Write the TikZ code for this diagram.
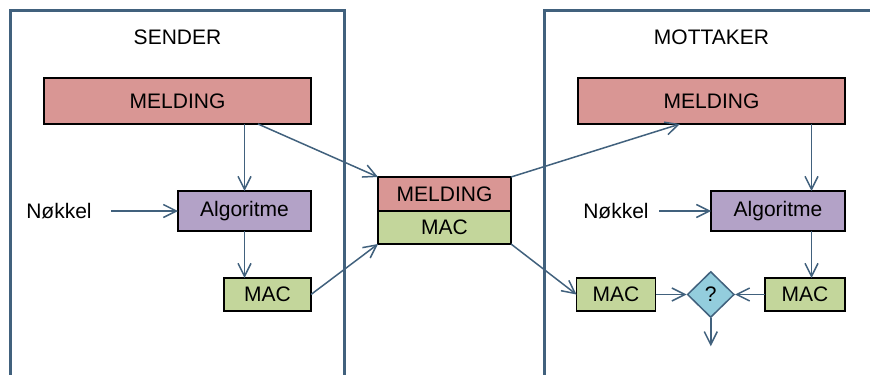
\documentclass[tikz,border=0pt]{standalone}
\usepackage{fontspec}
\setmainfont{Liberation Sans}
\usetikzlibrary{arrows.meta,positioning,shapes.geometric}
\definecolor{linjeblaa}{RGB}{65,97,125}
\definecolor{rosa}{RGB}{217,150,148}
\definecolor{lilla}{RGB}{179,162,199}
\definecolor{gronn}{RGB}{195,214,155}
\definecolor{turkis}{RGB}{147,205,221}

\begin{document}
\begin{tikzpicture}[x=0.5pt,y=-0.5pt,>={Straight Barb[length=6.5pt,width=6.5pt]},font=\fontsize{10.5}{12}\selectfont]
  \tikzstyle{boks}=[draw=black,line width=0.6pt,inner sep=0pt,outer sep=0pt,minimum height=16.5pt]
  \tikzstyle{panel}=[draw=linjeblaa,line width=1.5pt]
  \tikzstyle{pil}=[draw=linjeblaa,line width=0.75pt,->]
  \useasboundingbox (0,0) rectangle (870,374);
  % rammer
  \draw[panel] (10,390) -- (10,11) -- (344,11) -- (344,390);
  \draw[panel] (544,390) -- (544,11) -- (890,11);
  % sender
  \node[boks,fill=rosa,minimum width=133.5pt,minimum height=23pt] (meldingS) at (177.5,101) {MELDING};
  \node[inner sep=0pt,above=16.5pt of meldingS] (sender) {SENDER};
  \node[boks,fill=lilla,minimum width=66.5pt,minimum height=20pt,below left=33.5pt and 0pt of meldingS.south east] (algS) {Algoritme};
  \node[inner sep=0pt,left=43pt of algS] (nokkelS) {Nøkkel};
  \node[boks,fill=gronn,minimum width=43.5pt,below left=23.5pt and 0pt of algS.south east] (macS) {MAC};
  % melding + mac underveis
  \node[boks,fill=rosa,minimum width=66.5pt,minimum height=17pt] (meldingM) at (444.5,194) {MELDING};
  \node[boks,fill=gronn,minimum width=66.5pt,below=0pt of meldingM] (macM) {MAC};
  % mottaker
  \node[boks,fill=rosa,minimum width=133.5pt,minimum height=23pt,right=133.5pt of meldingS] (meldingR) {MELDING};
  \node[inner sep=0pt,above=16.5pt of meldingR] (mottaker) {MOTTAKER};
  \node[boks,fill=lilla,minimum width=67pt,minimum height=20pt,below left=33.5pt and 0pt of meldingR.south east] (algR) {Algoritme};
  \node[inner sep=0pt,left=31pt of algR] (nokkelR) {Nøkkel};
  \node[boks,fill=gronn,minimum width=40pt,below left=23.5pt and 0pt of algR.south east] (mac2R) {MAC};
  \node[diamond,draw=linjeblaa,fill=turkis,line width=0.75pt,minimum width=23.5pt,minimum height=23pt,inner sep=0pt,left=15pt of mac2R] (sjekk) {?};
  \node[boks,fill=gronn,minimum width=39.5pt,left=15.5pt of sjekk] (mac1R) {MAC};
  \coordinate[below=14pt of sjekk] (ut);
  % piler
  \draw[pil] (algS.north |- meldingS.south) -- (algS.north);
  \draw[pil] ([xshift=40.25pt]meldingS.south) -- (meldingM.north west);
  \draw[pil,shorten <=9.5pt] (nokkelS) -- (algS);
  \draw[pil] (algS.south) -- (algS.south |- macS.north);
  \draw[pil] (macS.east) -- (macM.south west);
  \draw[pil] (meldingM.north east) -- ([xshift=-15.75pt]meldingR.south);
  \draw[pil] (macM.south east) -- (mac1R.west);
  \coordinate (innR) at ([xshift=16.75pt]algR.north);
  \draw[pil] (innR |- meldingR.south) -- (innR);
  \draw[pil] (innR |- algR.south) -- (innR |- mac2R.north);
  \draw[pil,shorten <=5pt] (nokkelR) -- (algR);
  \draw[pil] (mac1R) -- (sjekk);
  \draw[pil] (mac2R) -- (sjekk);
  \draw[pil] (sjekk) -- (ut);
\end{tikzpicture}
\end{document}
